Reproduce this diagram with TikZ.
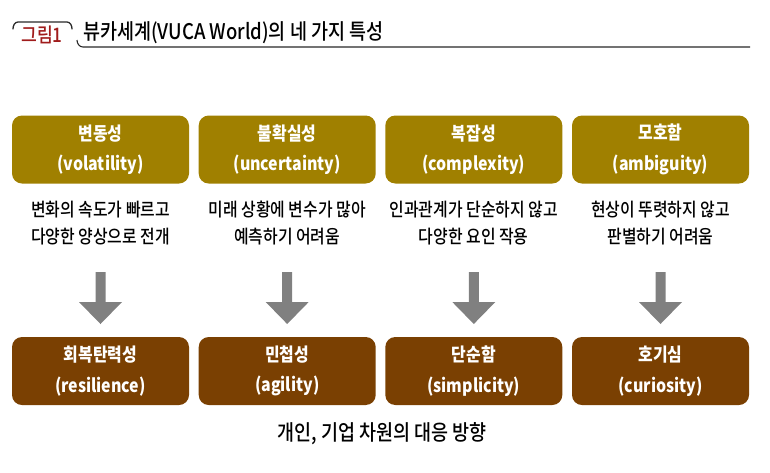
\documentclass[tikz,border=0pt]{standalone}
\usepackage{fontspec}
\setmainfont{Noto Sans CJK KR}[FakeStretch=0.86]
\newfontfamily\krmed{Noto Sans CJK KR}[UprightFont={* Medium}, FakeStretch=0.86]
\definecolor{topcol}{RGB}{160,128,0}
\definecolor{botcol}{RGB}{122,64,2}
\definecolor{arrcol}{RGB}{128,128,128}
\definecolor{figred}{RGB}{160,28,28}
\definecolor{linecol}{RGB}{40,40,40}
\begin{document}
\begin{tikzpicture}[x=1pt,y=-1pt,
  box/.style={rounded corners=10pt, minimum width=177pt, minimum height=68pt, inner sep=0pt,
    text=white, align=center, font=\fontsize{18.5}{30.5}\selectfont\bfseries},
  topbox/.style={box, fill=topcol},
  botbox/.style={box, fill=botcol},
  desc/.style={align=center, font=\krmed\fontsize{18.5}{27}\selectfont, text=black, inner sep=0pt},
  blockarrow/.style={fill=arrcol}
]
\useasboundingbox (0,0) rectangle (770,472);

% title
\draw[linecol, line width=1.3pt, line cap=round] (13,29) to[out=90,in=180] (18,22) -- (67,22) to[out=0,in=90] (72,29);
\node[text=figred, font=\krmed\fontsize{20}{22}\selectfont, inner sep=0pt] (fig) at (42,35) {그림1};
\draw[linecol, line width=1.1pt] (77,40) to[out=-90,in=180] (83,47) -- (750,47);
\node[anchor=west, font=\krmed\fontsize{21.5}{24}\selectfont, inner sep=0pt] (title) at (83,33) {뷰카세계(VUCA World)의 네 가지 특성};

% columns
\foreach \i/\x/\ko/\en/\da/\db/\bko/\ben in {
  1/100.5/변동성/volatility/변화의 속도가 빠르고/다양한 양상으로 전개/회복탄력성/resilience,
  2/287.2/불확실성/uncertainty/미래 상황에 변수가 많아/예측하기 어려움/민첩성/agility,
  3/473.8/복잡성/complexity/인과관계가 단순하지 않고/다양한 요인 작용/단순함/simplicity,
  4/660.5/모호함/ambiguity/현상이 뚜렷하지 않고/판별하기 어려움/호기심/curiosity} {
  \node[topbox] (t\i) at (\x,149.5) {\ko\\(\en)};
  \node[desc] (d\i) at (\x,223) {\da\\\db};
  \node[botbox] (b\i) at (\x,371) {\bko\\(\ben)};
  \fill[arrcol] (\x-5,272) -- (\x+5,272) -- (\x+5,302) -- (\x+21.5,302) -- (\x,324) -- (\x-21.5,302) -- (\x-5,302) -- cycle;
}

\node[font=\krmed\fontsize{21.5}{24}\selectfont, inner sep=0pt] (caption) at (382,434) {개인, 기업 차원의 대응 방향};
\end{tikzpicture}
\end{document}
